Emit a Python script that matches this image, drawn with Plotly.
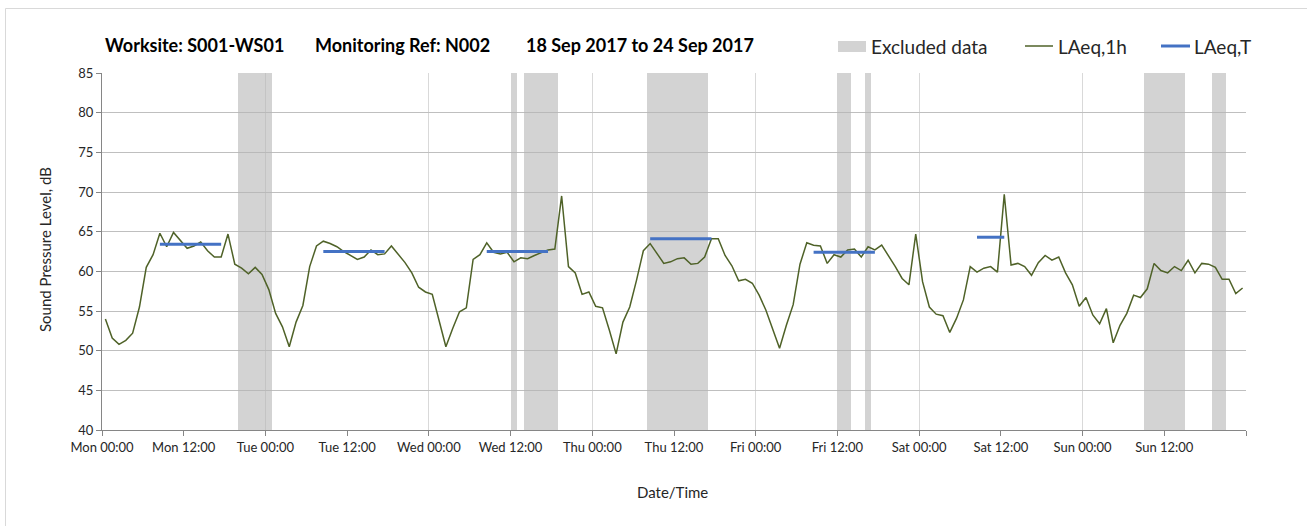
import pandas as pd
import plotly.graph_objects as go

# ---- data -------------------------------------------------------------
# Hourly LAeq,1h values, Mon 18 Sep 2017 00:30 onwards (one per hour)
laeq_1h = [
    54.0, 51.6, 50.8, 51.3, 52.2, 55.5, 60.5, 62.1, 64.8, 63.1, 64.9, 63.9,
    62.9, 63.2, 63.7, 62.6, 61.8, 61.8, 64.7, 60.9, 60.4, 59.7, 60.5, 59.6,
    57.7, 54.7, 53.0, 50.5, 53.6, 55.7, 60.6, 63.2, 63.8, 63.5, 63.1, 62.5,
    62.0, 61.5, 61.8, 62.7, 62.1, 62.2, 63.2, 62.2, 61.1, 59.8, 58.0, 57.4,
    57.1, 53.8, 50.5, 52.8, 54.9, 55.4, 61.5, 62.1, 63.6, 62.4, 62.2, 62.4,
    61.2, 61.7, 61.6, 62.0, 62.4, 62.7, 62.8, 69.5, 60.6, 59.8, 57.1, 57.4,
    55.6, 55.4, 52.6, 49.6, 53.6, 55.5, 58.9, 62.6, 63.5, 62.3, 61.0, 61.2,
    61.6, 61.7, 60.9, 61.0, 61.8, 64.1, 64.1, 62.0, 60.7, 58.8, 59.0, 58.5,
    57.0, 55.1, 52.8, 50.3, 53.2, 55.8, 60.9, 63.6, 63.3, 63.2, 61.0, 62.1,
    61.8, 62.7, 62.8, 61.8, 63.1, 62.7, 63.3, 62.0, 60.6, 59.1, 58.3, 64.7,
    58.7, 55.5, 54.6, 54.4, 52.3, 54.1, 56.4, 60.6, 59.9, 60.4, 60.6, 59.9,
    69.7, 60.8, 61.0, 60.6, 59.5, 61.1, 62.0, 61.4, 61.8, 59.8, 58.3, 55.6,
    56.7, 54.5, 53.4, 55.3, 51.0, 53.2, 54.7, 57.0, 56.7, 57.8, 61.0, 60.1,
    59.8, 60.6, 60.1, 61.4, 59.8, 61.0, 60.9, 60.5, 59.0, 59.0, 57.2, 57.9,
]
first_hour = "2017-09-18 00:30"

# LAeq,T over each daytime assessment period
laeq_t_start = ["2017-09-18 08:30", "2017-09-19 08:30", "2017-09-20 08:30",
                "2017-09-21 08:30", "2017-09-22 08:30", "2017-09-23 08:30"]
laeq_t_end = ["2017-09-18 17:30", "2017-09-19 17:30", "2017-09-20 17:30",
              "2017-09-21 17:30", "2017-09-22 17:30", "2017-09-23 12:30"]
laeq_t = [63.4, 62.5, 62.5, 64.1, 62.4, 64.3]

# Periods excluded from the assessment
excluded_start = ["2017-09-18 20:00", "2017-09-20 12:00", "2017-09-20 14:00",
                  "2017-09-21 08:00", "2017-09-22 12:00", "2017-09-22 16:00",
                  "2017-09-24 09:00", "2017-09-24 19:00"]
excluded_end = ["2017-09-19 01:00", "2017-09-20 13:00", "2017-09-20 19:00",
                "2017-09-21 17:00", "2017-09-22 14:00", "2017-09-22 17:00",
                "2017-09-24 15:00", "2017-09-24 21:00"]

# Axis setup
x_start, x_end = "2017-09-18 00:00", "2017-09-25 00:00"
y_min, y_max = 40, 85
tick_labels = ["Mon 00:00", "Mon 12:00", "Tue 00:00", "Tue 12:00",
               "Wed 00:00", "Wed 12:00", "Thu 00:00", "Thu 12:00",
               "Fri 00:00", "Fri 12:00", "Sat 00:00", "Sat 12:00",
               "Sun 00:00", "Sun 12:00", ""]

# ---- derived series ---------------------------------------------------
hour_times = pd.date_range(first_hour, periods=len(laeq_1h), freq="h")
tick_vals = pd.date_range(x_start, x_end, freq="12h")

ex_s = pd.to_datetime(excluded_start)
ex_e = pd.to_datetime(excluded_end)
ex_mid = ex_s + (ex_e - ex_s) / 2
ex_width = [(e - s).total_seconds() * 1000 for s, e in zip(ex_s, ex_e)]

t_x, t_y = [], []
for s, e, v in zip(laeq_t_start, laeq_t_end, laeq_t):
    t_x += [s, e, None]
    t_y += [v, v, None]

FONT = "Lato, 'Open Sans', sans-serif"
GREEN = "#4f6228"
BLUE = "#4472c4"
TXT = "#262626"

fig = go.Figure()

# Excluded periods: full-height translucent bars so gridlines show through
fig.add_trace(go.Bar(
    x=ex_mid, y=[y_max - y_min] * len(ex_mid), base=y_min, width=ex_width,
    marker=dict(color="rgba(181,181,181,0.6)", line=dict(width=0)),
    name="Excluded data", showlegend=False, xaxis="x", yaxis="y",
    hoverinfo="skip",
))

fig.add_trace(go.Scatter(
    x=hour_times, y=laeq_1h, mode="lines",
    line=dict(color=GREEN, width=1.5),
    name="LAeq,1h", showlegend=False, xaxis="x2", yaxis="y",
))

fig.add_trace(go.Scatter(
    x=t_x, y=t_y, mode="lines",
    line=dict(color=BLUE, width=3),
    name="LAeq,T", showlegend=False, xaxis="x2", yaxis="y",
))

axis_font = dict(family=FONT, size=13, color=TXT)

fig.update_layout(
    width=1307, height=526,
    margin=dict(l=102, r=61, t=73, b=96),
    paper_bgcolor="white", plot_bgcolor="white",
    bargap=0,
    showlegend=False,
    xaxis=dict(
        type="date", range=[x_start, x_end],
        tick0=x_start, dtick=86400000,
        showgrid=True, gridcolor="#d9d9d9", gridwidth=1,
        showticklabels=False, ticks="",
        showline=True, linecolor="#868686", linewidth=1,
        zeroline=False, fixedrange=True,
    ),
    xaxis2=dict(
        type="date", range=[x_start, x_end], overlaying="x", anchor="y",
        side="bottom",
        tickmode="array", tickvals=tick_vals, ticktext=tick_labels,
        ticks="outside", ticklen=5, tickcolor="#868686", tickwidth=1,
        showgrid=False, showline=False, zeroline=False,
        tickfont=axis_font,
    ),
    yaxis=dict(
        range=[y_min, y_max], dtick=5, tick0=y_min,
        showgrid=True, gridcolor="#bfbfbf", gridwidth=1,
        showline=True, linecolor="#868686", linewidth=1,
        ticks="outside", ticklen=5, tickcolor="#868686",
        zeroline=False, tickfont=axis_font,
    ),
)

# Plot-area pixel helpers for paper coordinates
PL, PW, PB, PH = 102, 1144, 430, 357


def px(xp):
    return (xp - PL) / PW


def py(yp):
    return (PB - yp) / PH


annotations = []
# Title pieces
for txt, left in [("Worksite: S001-WS01", 103),
                  ("Monitoring Ref: N002", 313),
                  ("18 Sep 2017 to 24 Sep 2017", 524)]:
    annotations.append(dict(
        text=f"<b>{txt}</b>", xref="paper", yref="paper",
        x=px(left), y=py(45), xanchor="left", yanchor="middle",
        showarrow=False, font=dict(family=FONT, size=18, color="#000000"),
    ))

# Legend entries
for txt, left in [("Excluded data", 869), ("LAeq,1h", 1056), ("LAeq,T", 1192)]:
    annotations.append(dict(
        text=txt, xref="paper", yref="paper",
        x=px(left), y=py(46), xanchor="left", yanchor="middle",
        showarrow=False, font=dict(family=FONT, size=19, color=TXT),
    ))

# Axis titles
annotations.append(dict(
    text="Sound Pressure Level, dB", xref="paper", yref="paper",
    x=px(45), y=py(250), xanchor="center", yanchor="middle",
    textangle=-90, showarrow=False, font=dict(family=FONT, size=15, color=TXT),
))
annotations.append(dict(
    text="Date/Time", xref="paper", yref="paper",
    x=px(672), y=py(492), xanchor="center", yanchor="middle",
    showarrow=False, font=dict(family=FONT, size=15, color=TXT),
))

shapes = [
    # legend symbols
    dict(type="rect", xref="paper", yref="paper",
         x0=px(838), x1=px(866), y0=py(52), y1=py(41),
         fillcolor="#d3d3d3", line=dict(width=0)),
    dict(type="line", xref="paper", yref="paper",
         x0=px(1025), x1=px(1053), y0=py(46), y1=py(46),
         line=dict(color=GREEN, width=1.5)),
    dict(type="line", xref="paper", yref="paper",
         x0=px(1161), x1=px(1190), y0=py(46), y1=py(46),
         line=dict(color=BLUE, width=3)),
    # chart frame
    dict(type="line", xref="paper", yref="paper",
         x0=px(5.5), x1=px(5.5), y0=py(8.5), y1=py(526),
         line=dict(color="#d9d9d9", width=1)),
    dict(type="line", xref="paper", yref="paper",
         x0=px(5.5), x1=px(1307), y0=py(8.5), y1=py(8.5),
         line=dict(color="#d9d9d9", width=1)),
]

fig.update_layout(annotations=annotations, shapes=shapes)

fig.write_html("out.html")
